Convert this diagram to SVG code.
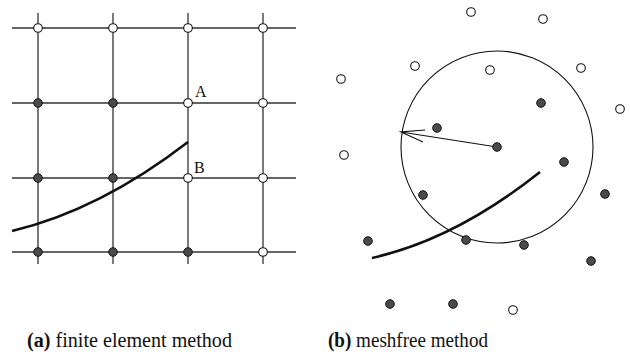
<svg xmlns="http://www.w3.org/2000/svg" width="630" height="355" viewBox="0 0 630 355">
<style>
.g{stroke:#333;stroke-width:1.3;fill:none}
.o{fill:#fff;stroke:#111;stroke-width:1.1}
.f{fill:#4a4a4a;stroke:#111;stroke-width:1}
.c{fill:none;stroke:#111;stroke-width:2.6}
.t{font-family:"Liberation Serif",serif;fill:#111}
</style>
<rect width="630" height="355" fill="#fff"/>
<g id="grid">
<path class="g" d="M12,28H296M12,103H296M12,178H296M12,252H296M38,13V264M113,13V264M188,13V264M263,13V264"/>
</g>
<path id="curve-a" class="c" d="M12,231Q100,210 188,142"/>
<g id="nodes-a">
<circle class="o" cx="38" cy="28" r="4.3"/><circle class="o" cx="113" cy="28" r="4.3"/><circle class="o" cx="188" cy="28" r="4.3"/><circle class="o" cx="263" cy="28" r="4.3"/>
<circle class="f" cx="38" cy="103" r="4.3"/><circle class="f" cx="113" cy="103" r="4.3"/><circle class="o" cx="188" cy="103" r="4.3"/><circle class="o" cx="263" cy="103" r="4.3"/>
<circle class="f" cx="38" cy="178" r="4.3"/><circle class="f" cx="113" cy="178" r="4.3"/><circle class="o" cx="188" cy="178" r="4.3"/><circle class="o" cx="263" cy="178" r="4.3"/>
<circle class="f" cx="38" cy="252" r="4.3"/><circle class="f" cx="113" cy="252" r="4.3"/><circle class="f" cx="188" cy="252" r="4.3"/><circle class="o" cx="263" cy="252" r="4.3"/>
</g>
<text class="t" x="195" y="97" font-size="16">A</text>
<text class="t" x="194" y="173" font-size="16">B</text>
<g id="support">
<circle cx="497" cy="147" r="96" fill="none" stroke="#111" stroke-width="1.1"/>
</g>
<g id="connectors">
<path d="M497,147L401,132M425,130L401,132L423,142" fill="none" stroke="#111" stroke-width="1.2"/>
</g>
<path id="curve-b" class="c" d="M372,258Q456,239 540,172"/>
<g id="nodes-b">
<circle class="o" cx="471" cy="12" r="4.3"/><circle class="o" cx="543" cy="19" r="4.3"/><circle class="o" cx="415" cy="66" r="4.3"/><circle class="o" cx="490" cy="70" r="4.3"/><circle class="o" cx="341" cy="79" r="4.3"/><circle class="o" cx="581" cy="68" r="4.3"/><circle class="o" cx="620" cy="109" r="4.3"/><circle class="o" cx="344" cy="155" r="4.3"/><circle class="o" cx="513" cy="310" r="4.3"/>
<circle class="f" cx="541" cy="103" r="4.3"/><circle class="f" cx="437" cy="128" r="4.3"/><circle class="f" cx="497" cy="147" r="4.3"/><circle class="f" cx="564" cy="162" r="4.3"/><circle class="f" cx="423" cy="195" r="4.3"/><circle class="f" cx="605" cy="194" r="4.3"/><circle class="f" cx="368" cy="241" r="4.3"/><circle class="f" cx="466" cy="240" r="4.3"/><circle class="f" cx="524" cy="245" r="4.3"/><circle class="f" cx="591" cy="261" r="4.3"/><circle class="f" cx="390" cy="304" r="4.3"/><circle class="f" cx="453" cy="304" r="4.3"/>
</g>
<text class="t" x="27" y="347" font-size="20" textLength="205" lengthAdjust="spacingAndGlyphs"><tspan font-weight="bold">(a)</tspan> finite element method</text>
<text class="t" x="328" y="347" font-size="20" textLength="160" lengthAdjust="spacingAndGlyphs"><tspan font-weight="bold">(b)</tspan> meshfree method</text>
</svg>
